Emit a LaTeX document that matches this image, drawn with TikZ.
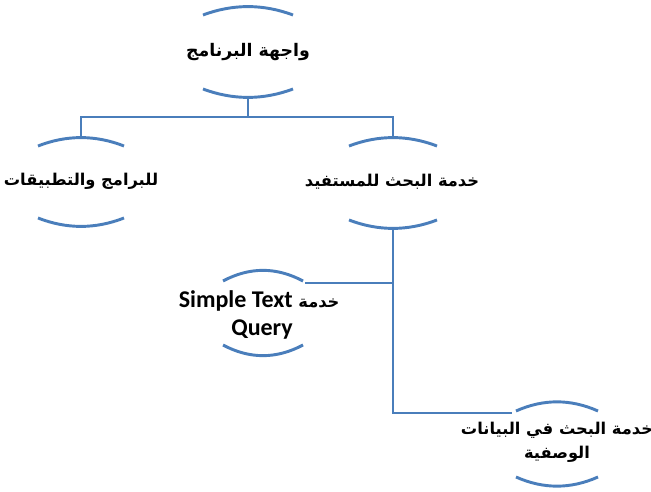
\documentclass[tikz,border=0pt]{standalone}
\usepackage{fontspec}
\TeXXeTstate=1
\newfontfamily\arabicfont[Script=Arabic]{DejaVu Sans}
\newfontfamily\latinfont{Carlito}
\definecolor{linkblue}{HTML}{4A7EBB}
\tikzset{
  link/.style={draw=linkblue, line width=2.2pt},
  artext/.style={font=\arabicfont\bfseries\fontsize{12.2}{18}\selectfont, inner sep=0pt, align=center},
  entext/.style={font=\latinfont\bfseries\fontsize{18}{21}\selectfont, inner sep=0pt, align=right},
}
\begin{document}
\begin{tikzpicture}[x=0.75pt, y=-0.75pt]
\useasboundingbox (0,0) rectangle (651,492);
% nodes (texts)
\node[artext, font=\arabicfont\bfseries\fontsize{13}{18}\selectfont] (top) at (248,52) {\beginR واجهة البرنامج\endR};
\node[artext] (lft) at (81,181) {\beginR للبرامج والتطبيقات\endR};
\node[artext] (rgt) at (392,182) {\beginR خدمة البحث للمستفيد\endR};
\node[entext, anchor=north east] (mid) at (293,290) {Simple Text\rlap{\arabicfont\fontsize{12.2}{17}\selectfont\ \beginR خدمة\endR}\\Query};
\node[artext] (brn) at (557,442) {\beginR خدمة البحث في البيانات\endR\\\beginR الوصفية\endR};
% arcs (half-width w, apex offset h, end offset e)
\foreach \c/\cx/\cy/\w/\h/\e in {top/248/52/45/47/37, lft/81/182/43/46/36, rgt/393/183/44/47/37, mid/263/313/40/45/32, brn/557/444/41/44/33}{
  \draw[link] (\cx-\w,\cy-\e) .. controls (\cx-\w/3,\cy-\h-1.2) and (\cx+\w/3,\cy-\h-1.2) .. (\cx+\w,\cy-\e);
  \draw[link] (\cx-\w,\cy+\e) .. controls (\cx-\w/3,\cy+\h+1.2) and (\cx+\w/3,\cy+\h+1.2) .. (\cx+\w,\cy+\e);
  \coordinate (\c-t) at (\cx,\cy-\h);
  \coordinate (\c-b) at (\cx,\cy+\h);
}
\coordinate (bus) at (248,117);
\coordinate (midr) at (305,283);
\coordinate (brnl) at (512,413);
% connectors
\draw[link] (top-b) -- (bus);
\draw[link] (lft-t) |- (bus) -| (rgt-t);
\draw[link] (rgt-b) |- (brnl);
\draw[link] (midr) -- (midr -| rgt-b);
\end{tikzpicture}
\end{document}
